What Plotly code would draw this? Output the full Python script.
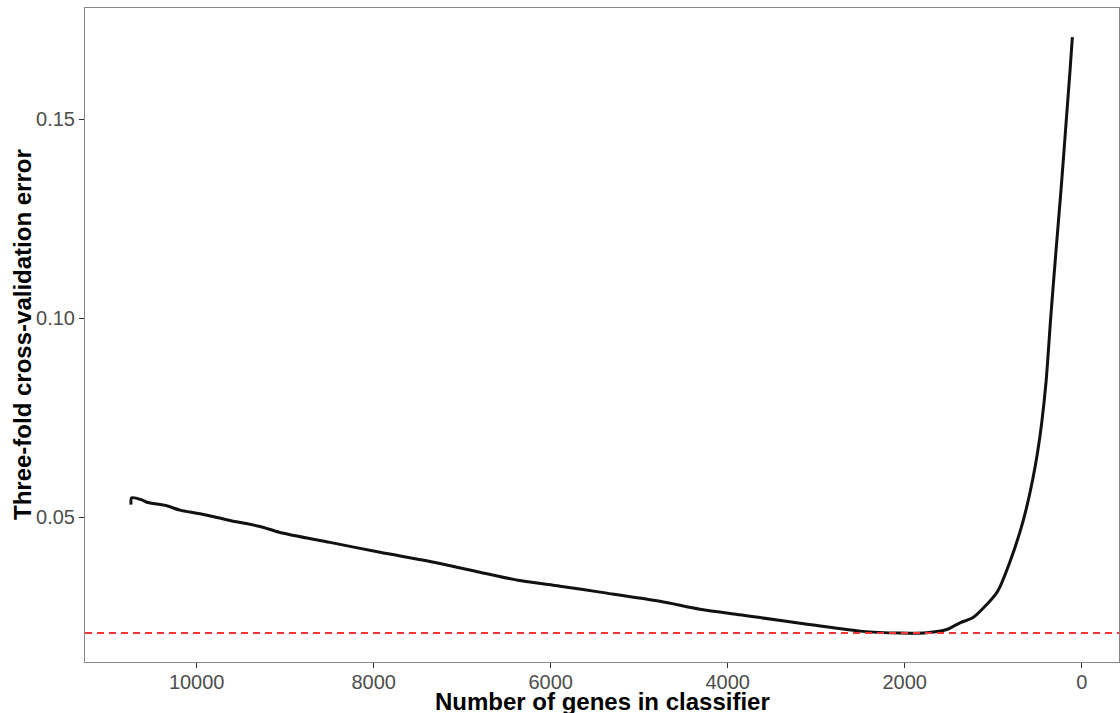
import plotly.graph_objects as go

genes = [10742, 10734, 10621, 10565, 10339, 10189, 9963, 9624, 9285, 9059, 8494, 7929,
         7364, 6799, 6347, 5895, 5443, 4765, 4313, 3861, 3635, 3183, 2505, 2053, 1751,
         1525, 1375, 1228, 1073, 960, 923, 810, 697, 624, 554, 500, 452, 403, 350,
         290, 234, 177, 132, 106]
cv_error = [0.0532, 0.0549, 0.0544, 0.0538, 0.0529, 0.0518, 0.0509, 0.0492, 0.0477,
            0.0462, 0.0437, 0.0412, 0.0389, 0.0362, 0.0341, 0.0327, 0.0312, 0.0289,
            0.0269, 0.0255, 0.0248, 0.0234, 0.0214, 0.0209, 0.0210, 0.0218, 0.0235,
            0.0248, 0.0281, 0.0311, 0.0326, 0.0389, 0.0464, 0.0524, 0.0595,
            0.0662, 0.0738, 0.0841, 0.1003, 0.1172, 0.1323, 0.1491, 0.1624, 0.1707]
min_error = 0.0209

x_ticks = [10000, 8000, 6000, 4000, 2000, 0]
x_tick_labels = ["10000", "8000", "6000", "4000", "2000", "0"]
y_ticks = [0.05, 0.10, 0.15]
y_tick_labels = ["0.05", "0.10", "0.15"]

fig = go.Figure()
fig.add_trace(go.Scatter(x=genes, y=cv_error, mode="lines",
                         line=dict(color="#111111", width=3, shape="spline", smoothing=0.8),
                         showlegend=False))
fig.add_hline(y=min_error, line=dict(color="#f53535", width=2, dash="7px,5px"))

fig.update_layout(
    width=1120, height=713,
    margin=dict(l=85, r=1, t=8, b=51),
    plot_bgcolor="white", paper_bgcolor="white",
    font=dict(family="Liberation Sans, Arial, sans-serif"),
    annotations=[
        dict(text="<b>Number of genes in classifier</b>", xref="paper", yref="paper",
             x=0.5, y=(662 - 701) / 654, xanchor="center", yanchor="middle",
             showarrow=False, font=dict(size=24, color="black")),
        dict(text="<b>Three-fold cross-validation error</b>", xref="paper", yref="paper",
             x=(22 - 85) / 1034, y=0.5, xanchor="center", yanchor="middle",
             textangle=-90, showarrow=False, font=dict(size=24, color="black")),
    ],
)
fig.update_xaxes(
    range=[11262, -421], tickvals=x_ticks, ticktext=x_tick_labels,
    ticks="outside", ticklen=5, tickcolor="#333333",
    tickfont=dict(size=20, color="#4d4d4d"), ticklabelstandoff=-3,
    showline=True, mirror=True, linecolor="#888888", linewidth=1,
    showgrid=False, zeroline=False,
)
fig.update_yaxes(
    range=[0.01364, 0.178], tickvals=y_ticks, ticktext=y_tick_labels,
    ticks="outside", ticklen=5, tickcolor="#333333",
    tickfont=dict(size=20, color="#4d4d4d"),
    showline=True, mirror=True, linecolor="#888888", linewidth=1,
    showgrid=False, zeroline=False,
)
fig.write_html("out.html")
